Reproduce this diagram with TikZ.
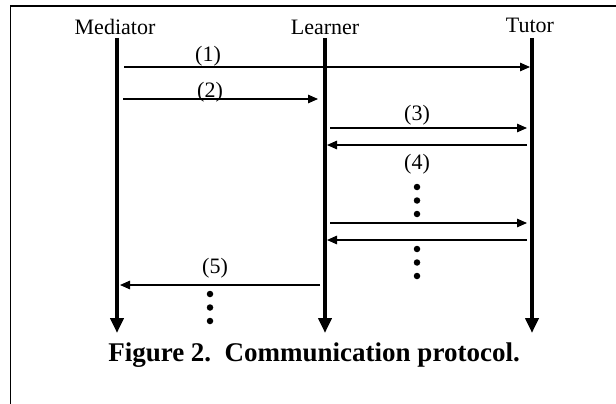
\documentclass[tikz,border=0pt]{standalone}
\usepackage{fontspec}
\setmainfont{Liberation Serif}
\usetikzlibrary{arrows.meta, positioning, calc}

\begin{document}
\begin{tikzpicture}[x=1pt, y=-1pt, font=\fontsize{22}{26}\selectfont,
  lifeline/.style={line width=3.8pt, -{Triangle[length=15pt, width=13pt]}},
  msg/.style={line width=1.3pt, -{Triangle[length=10pt, width=8.5pt]}},
  lbl/.style={anchor=base, inner sep=0pt},
  vdot/.style={circle, fill, inner sep=0pt, minimum size=6.5pt}]
\useasboundingbox (0,0) rectangle (616,404);
\draw[line width=1.2pt] (10.5,404) -- (10.5,6) -- (616,6);
% participants
\node[lbl] (med) at (115,35) {Mediator};
\node[lbl] (lrn) at (325,35) {Learner};
\node[lbl] (tut) at (530,33) {Tutor};
\coordinate (medtop) at (117,38);  \coordinate (medend) at (117,333);
\coordinate (lrntop) at (325,38);  \coordinate (lrnend) at (325,333);
\coordinate (tuttop) at (532,38);  \coordinate (tutend) at (532,333);
\draw[lifeline] (medtop) -- (medend);
\draw[lifeline] (lrntop) -- (lrnend);
\draw[lifeline] (tuttop) -- (tutend);
% messages
\coordinate (m1s) at (124,67);  \coordinate (m1e) at (530,67);
\coordinate (m2s) at (123,99);  \coordinate (m2e) at (318,99);
\coordinate (m3s) at (330,128); \coordinate (m3e) at (527,128);
\coordinate (m4s) at (527,145); \coordinate (m4e) at (327,145);
\coordinate (m6s) at (330,223); \coordinate (m6e) at (527,223);
\coordinate (m7s) at (527,240); \coordinate (m7e) at (327,240);
\coordinate (m5s) at (320,285); \coordinate (m5e) at (120,285);
\draw[msg] (m1s) -- (m1e);
\draw[msg] (m2s) -- (m2e);
\draw[msg] (m3s) -- (m3e);
\draw[msg] (m4s) -- (m4e);
\draw[msg] (m6s) -- (m6e);
\draw[msg] (m7s) -- (m7e);
\draw[msg] (m5s) -- (m5e);
\node[lbl] (l1) at (208,62) {(1)};
\node[lbl] (l2) at (210,97) {(2)};
\node[lbl] (l3) at (417,120) {(3)};
\node[lbl] (l4) at (417,169) {(4)};
\node[lbl] (l5) at (215,273) {(5)};
% dots
\foreach \y [count=\i] in {187,200.5,214} {\node[vdot] (da\i) at (417,\y) {};}
\foreach \y [count=\i] in {249,262.5,276} {\node[vdot] (db\i) at (417,\y) {};}
\foreach \y [count=\i] in {294,307.5,321} {\node[vdot] (dc\i) at (210,\y) {};}
% caption
\node[lbl, font=\bfseries\fontsize{27}{31}\selectfont] (cap) at (314,361) {Figure 2.\ \ Communication protocol.};
\end{tikzpicture}
\end{document}
